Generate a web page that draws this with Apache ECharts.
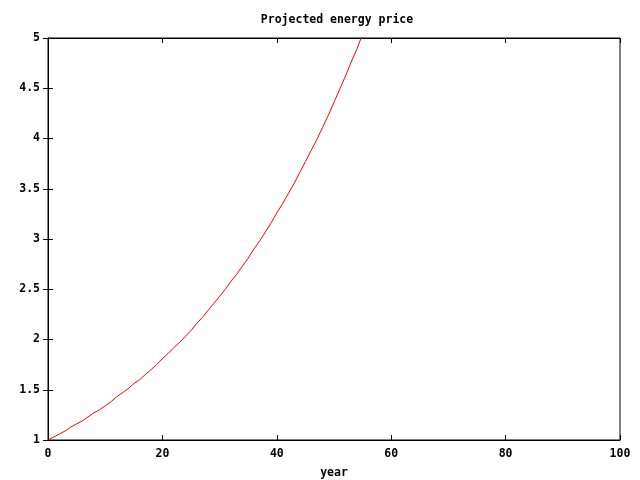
<!DOCTYPE html>
<html>
<head>
<meta charset="utf-8">
<script src="https://cdn.jsdelivr.net/npm/echarts@6/dist/echarts.min.js"></script>
<style>html,body{margin:0;padding:0;background:#fff}#c{width:640px;height:480px}</style>
</head>
<body>
<div id="c"></div>
<script>
const titleText = 'Projected energy price';
const xName = 'year';
const years = [0,1,2,3,4,5,6,7,8,9,10,11,12,13,14,15,16,17,18,19,20,21,22,23,24,25,26,27,28,29,30,31,32,33,34,35,36,37,38,39,40,41,42,43,44,45,46,47,48,49,50,51,52,53,54,55,56];
const prices = [1.00,1.03,1.06,1.09,1.13,1.16,1.19,1.23,1.27,1.30,1.34,1.38,1.43,1.47,1.51,1.56,1.60,1.65,1.70,1.75,1.81,1.86,1.92,1.97,2.03,2.09,2.16,2.22,2.29,2.36,2.43,2.50,2.58,2.65,2.73,2.81,2.90,2.98,3.07,3.16,3.26,3.35,3.45,3.55,3.66,3.77,3.88,3.99,4.11,4.23,4.36,4.49,4.62,4.76,4.89,5.04,5.19];
const xTicks = [0,20,40,60,80,100];
const yTicks = [1,1.5,2,2.5,3,3.5,4,4.5,5];

const font = 'DejaVu Sans Mono';
const chart = echarts.init(document.getElementById('c'), null, {renderer: 'canvas'});
const tickStyle = {show: true, inside: true, length: 5, lineStyle: {color: '#000', width: 1}};
const lineStyle = {show: true, lineStyle: {color: '#000', width: 1}};
chart.setOption({
  animation: false,
  backgroundColor: '#fff',
  title: {
    text: titleText, left: 332, top: 9, textAlign: 'center',
    textStyle: {fontFamily: font, fontSize: 11.5, fontWeight: 'bold', color: '#000'}
  },
  grid: {left: 48, right: 20, top: 38, bottom: 40, containLabel: false, outerBoundsMode: 'none', show: true, borderColor: '#000', borderWidth: 1, backgroundColor: 'transparent'},
  xAxis: [{
    type: 'value', min: xTicks[0], max: xTicks[xTicks.length-1], interval: 20, position: 'bottom',
    name: xName, nameLocation: 'middle', nameGap: 27,
    nameTextStyle: {fontFamily: font, fontSize: 11.5, fontWeight: 'bold', color: '#000'},
    axisLine: lineStyle, axisTick: tickStyle, splitLine: {show: false},
    axisLabel: {margin: 8, fontFamily: font, fontSize: 11.5, fontWeight: 'bold', color: '#000'}
  }, {
    type: 'value', min: xTicks[0], max: xTicks[xTicks.length-1], interval: 20, position: 'top',
    axisLine: lineStyle, axisTick: tickStyle, splitLine: {show: false}, axisLabel: {show: false}
  }],
  yAxis: [{
    type: 'value', min: yTicks[0], max: yTicks[yTicks.length-1], interval: 0.5, position: 'left',
    axisLine: lineStyle, axisTick: tickStyle, splitLine: {show: false},
    axisLabel: {margin: 8, fontFamily: font, fontSize: 11.5, fontWeight: 'bold', color: '#000'}
  }, {
    type: 'value', min: yTicks[0], max: yTicks[yTicks.length-1], interval: 0.5, position: 'right',
    axisLine: lineStyle, axisTick: tickStyle, splitLine: {show: false}, axisLabel: {show: false}
  }],
  series: [{
    type: 'line', xAxisIndex: 0, yAxisIndex: 0,
    data: years.map((y, i) => [y, prices[i]]),
    showSymbol: false, symbol: 'none', clip: true,
    lineStyle: {color: '#ff0000', width: 1},
    itemStyle: {color: '#ff0000'}
  }]
});
</script>
</body>
</html>
